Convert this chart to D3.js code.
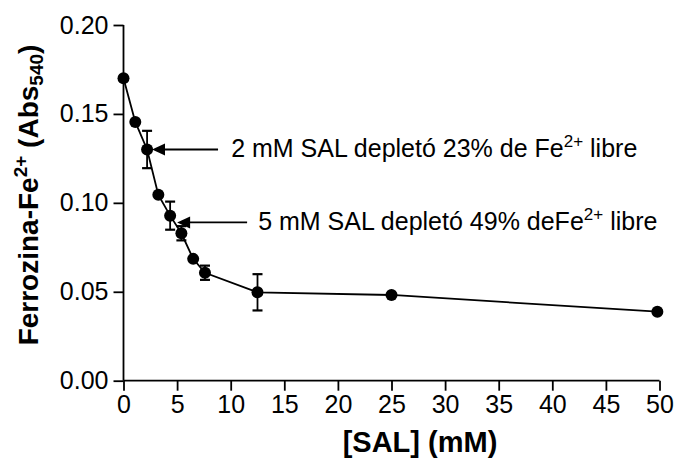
<!DOCTYPE html>
<html><head><meta charset="utf-8">
<script src="https://cdn.jsdelivr.net/npm/d3@7"></script>
<style>body{margin:0;background:#fff}svg{display:block}text{font-family:"Liberation Sans",Arial,sans-serif;fill:#000}</style>
</head><body>
<svg id="c" width="675" height="459"></svg>
<script>
const conc = [0, 1.1, 2.2, 3.25, 4.35, 5.4, 6.5, 7.6, 12.5, 25, 49.8];
const absorb = [0.170, 0.1455, 0.130, 0.1045, 0.0928, 0.0829, 0.0685, 0.0607, 0.0497, 0.0482, 0.0388];
const errs = [0, 0, 0.0105, 0, 0.0079, 0.004, 0, 0.004, 0.0102, 0, 0];
const xTicks = [0, 5, 10, 15, 20, 25, 30, 35, 40, 45, 50];
const yTicks = [0.00, 0.05, 0.10, 0.15, 0.20];
const annTipX = [2.66, 5.0];
const annTailX = [8.82, 11.53];
const annY = [0.130, 0.089];
const annTextX = [10.04, 12.56];
const annPre = ["2 mM SAL depletó 23% de Fe", "5 mM SAL depletó 49% deFe"];
const annPost = [" libre", " libre"];

const svg = d3.select("#c");
const x = d3.scaleLinear().domain([0, 50]).range([123.5, 659.5]);
const y = d3.scaleLinear().domain([0, 0.20]).range([380.7, 25]);
const FS = 25;

// axes
const gx = svg.append("g").attr("transform", `translate(0,${y(0)})`)
  .call(d3.axisBottom(x).tickValues(xTicks).tickSize(10).tickPadding(5).tickFormat(d3.format("d")));
const gy = svg.append("g").attr("transform", `translate(${x(0)},0)`)
  .call(d3.axisLeft(y).tickValues(yTicks).tickSize(10).tickPadding(5).tickFormat(d3.format(".2f")));
[gx, gy].forEach(g => {
  g.select(".domain").attr("stroke", "#000").attr("stroke-width", 1.8);
  g.selectAll(".tick line").attr("stroke", "#000").attr("stroke-width", 1.8);
  g.selectAll(".tick text").attr("font-size", FS).attr("font-family", "Liberation Sans, Arial, sans-serif").attr("fill", "#000");
});
gy.select(".domain").attr("d", `M0,${y(0.2)}V${y(0)}`);
gx.select(".domain").attr("d", `M${x(0)},0H${x(50)}`);

// line
const pts = conc.map((c, i) => ({x: c, y: absorb[i], e: errs[i]}));
svg.append("path").datum(pts)
  .attr("d", d3.line().x(d => x(d.x)).y(d => y(d.y)))
  .attr("fill", "none").attr("stroke", "#000").attr("stroke-width", 1.8);

// error bars
const eb = svg.append("g").selectAll("g").data(pts.filter(d => d.e > 0)).join("g")
  .attr("stroke", "#000").attr("stroke-width", 1.8);
eb.append("line").attr("x1", d => x(d.x)).attr("x2", d => x(d.x))
  .attr("y1", d => y(d.y + d.e)).attr("y2", d => y(d.y - d.e));
eb.append("line").attr("x1", d => x(d.x) - 5).attr("x2", d => x(d.x) + 5)
  .attr("y1", d => y(d.y + d.e)).attr("y2", d => y(d.y + d.e)).attr("stroke-width", 2.2);
eb.append("line").attr("x1", d => x(d.x) - 5).attr("x2", d => x(d.x) + 5)
  .attr("y1", d => y(d.y - d.e)).attr("y2", d => y(d.y - d.e)).attr("stroke-width", 2.2);

// markers
svg.append("g").selectAll("circle").data(pts).join("circle")
  .attr("cx", d => x(d.x)).attr("cy", d => y(d.y)).attr("r", 6).attr("fill", "#000");

// annotations
annTipX.forEach((tx, i) => {
  const yy = y(annY[i]);
  const tip = x(tx);
  svg.append("line").attr("x1", tip + 10).attr("x2", x(annTailX[i]))
    .attr("y1", yy).attr("y2", yy).attr("stroke", "#000").attr("stroke-width", 1.8);
  svg.append("path").attr("d", `M${tip},${yy}L${tip + 13},${yy - 6}L${tip + 13},${yy + 6}Z`).attr("fill", "#000");
  const t = svg.append("text").attr("x", x(annTextX[i])).attr("y", yy + 8).attr("font-size", FS);
  t.append("tspan").text(annPre[i]);
  t.append("tspan").attr("font-size", FS * 0.68).attr("dy", -10).text("2+");
  t.append("tspan").attr("dy", 10).text(annPost[i]);
});

// axis titles
svg.append("text").attr("x", 420).attr("y", 452).attr("text-anchor", "middle")
  .attr("font-size", 29).attr("font-weight", "bold").text("[SAL] (mM)");
const yt = svg.append("text").attr("transform", "translate(38,195) rotate(-90)")
  .attr("text-anchor", "middle").attr("font-size", 28).attr("font-weight", "bold");
yt.append("tspan").text("Ferrozina-Fe");
yt.append("tspan").attr("font-size", 19).attr("dy", -11).text("2+");
yt.append("tspan").attr("dy", 11).text(" (Abs");
yt.append("tspan").attr("font-size", 19).attr("dy", 5).text("540");
yt.append("tspan").attr("dy", -5).text(")");
</script>
</body></html>
